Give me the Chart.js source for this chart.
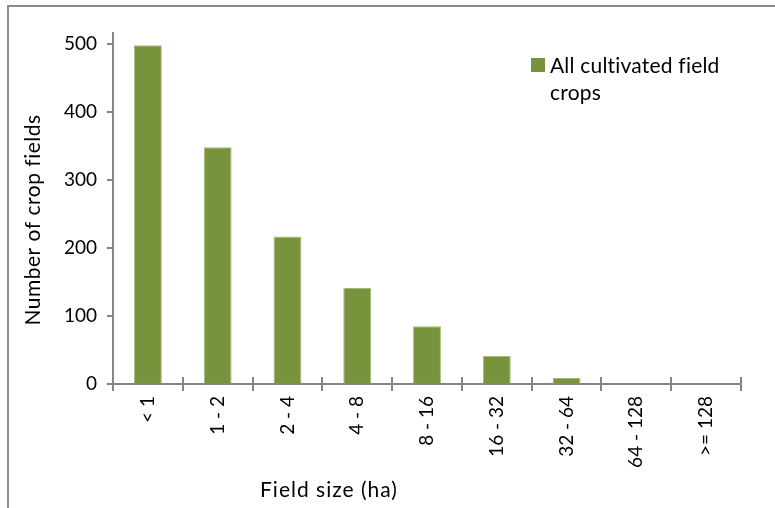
<!DOCTYPE html>
<html>
<head>
<meta charset="utf-8">
<script src="https://cdn.jsdelivr.net/npm/chart.js@4.4.1/dist/chart.umd.min.js"></script>
<style>
  html, body { margin: 0; padding: 0; background: #fff; overflow: hidden; }
  #wrap { position: relative; width: 775px; height: 508px; }
  #frame { position: absolute; left: 7px; top: 5px; width: 1000px; height: 1000px; border: 2px solid #8c8c8c; }
  #chart { position: absolute; left: 0; top: 0; }
  #legend { position: absolute; left: 531px; top: 51px; font: 21px Lato, sans-serif; color: #000; line-height: 27px; letter-spacing: 0.2px; }
  #legend .box { position: absolute; left: 0; top: 7px; width: 14px; height: 14px; background: #77933c; }
  #legend .txt { margin-left: 19px; }
</style>
</head>
<body>
<div id="wrap">
  <div id="frame"></div>
  <canvas id="chart" width="775" height="508"></canvas>
  <div id="legend"><span class="box"></span><div class="txt">All cultivated field<br>crops</div></div>
</div>
<script>
const sizeClasses = ['< 1', '1 - 2', '2 - 4', '4 - 8', '8 - 16', '16 - 32', '32 - 64', '64 - 128', '>= 128'];
const fieldCounts = [498, 348, 217, 141, 85, 41, 9, 0, 0];
const yTicks = [0, 100, 200, 300, 400, 500];

const axisColor = '#868686';
const fontFamily = 'Lato, sans-serif';

// axis titles sit where Excel put them, not centred on the plot
const axisTitles = {
    id: 'axisTitles',
    afterDraw(chart) {
        const ctx = chart.ctx;
        ctx.save();
        ctx.fillStyle = '#000';
        ctx.font = '21px ' + fontFamily;
        ctx.textAlign = 'center';
        ctx.textBaseline = 'middle';
        ctx.letterSpacing = '1px';
        ctx.fillText('Field size (ha)', 329, 490);
        ctx.translate(33, 220);
        ctx.rotate(-Math.PI / 2);
        ctx.letterSpacing = '0.5px';
        ctx.fillText('Number of crop fields', 0, 0);
        ctx.restore();
    }
};

// excel category ticks cross the axis, so add the short upper half
const crossTicks = {
    id: 'crossTicks',
    afterDraw(chart) {
        const x = chart.scales.x;
        const ctx = chart.ctx;
        ctx.save();
        ctx.strokeStyle = axisColor;
        ctx.lineWidth = 2;
        ctx.beginPath();
        for (let i = 0; i <= sizeClasses.length; i++) {
            const px = Math.round(x.getPixelForValue(i - 0.5));
            ctx.moveTo(px, x.top);
            ctx.lineTo(px, x.top - 7);
        }
        ctx.stroke();
        ctx.restore();
    }
};

new Chart(document.getElementById('chart'), {
    type: 'bar',
    data: {
        labels: sizeClasses,
        datasets: [{
            label: 'All cultivated field crops',
            data: fieldCounts,
            backgroundColor: '#77933c',
            borderColor: '#a3bd78',
            borderWidth: 1,
            barPercentage: 0.4,
            categoryPercentage: 1.0
        }]
    },
    options: {
        responsive: false,
        animation: false,
        layout: { padding: { left: 0, top: 33, right: 34, bottom: 0 } },
        plugins: { legend: { display: false }, tooltip: { enabled: false } },
        scales: {
            x: {
                afterFit: (scale) => { scale.height = 124; },
                border: { color: axisColor, width: 2 },
                grid: { offset: true, drawOnChartArea: false, color: axisColor, lineWidth: 2, tickLength: 7 },
                ticks: { color: '#000', font: { family: fontFamily, size: 19 }, minRotation: 90, maxRotation: 90, padding: 5, autoSkip: false }
            },
            y: {
                min: 0,
                max: 516,
                afterFit: (scale) => { scale.width = 113; },
                afterBuildTicks: (scale) => { scale.ticks = yTicks.map(v => ({ value: v })); },
                border: { color: axisColor, width: 2 },
                grid: { drawOnChartArea: false, color: axisColor, lineWidth: 2, tickLength: 6 },
                ticks: { color: '#000', font: { family: fontFamily, size: 19 }, padding: 10 }
            }
        }
    },
    plugins: [axisTitles, crossTicks]
});
</script>
</body>
</html>
